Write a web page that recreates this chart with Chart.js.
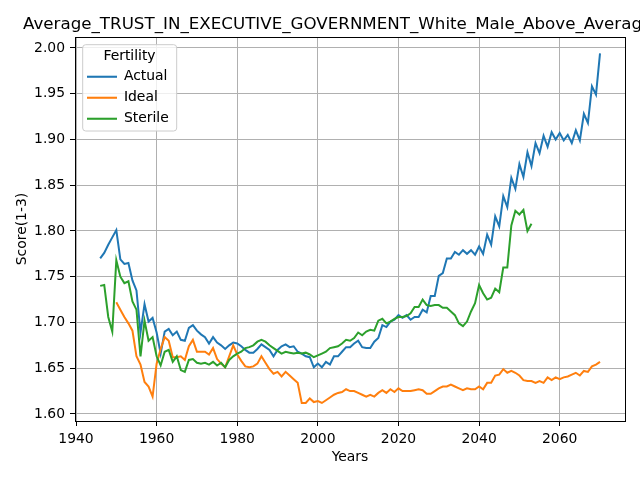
<!DOCTYPE html>
<html>
<head>
<meta charset="utf-8">
<script src="https://cdn.jsdelivr.net/npm/chart.js@4.4.0/dist/chart.umd.min.js"></script>
<style>
  html, body { margin: 0; padding: 0; background: #fff; }
  #wrap { width: 640px; height: 480px; }
</style>
</head>
<body>
<div id="wrap"><canvas id="myChart"></canvas></div>
<script>
const chartTitle = 'Average_TRUST_IN_EXECUTIVE_GOVERNMENT_White_Male_Above_Average';

const years = [
  1946, 1947, 1948, 1949, 1950, 1951, 1952, 1953, 1954, 1955, 1956, 1957, 1958, 1959,
  1960, 1961, 1962, 1963, 1964, 1965, 1966, 1967, 1968, 1969,
  1970, 1971, 1972, 1973, 1974, 1975, 1976, 1977, 1978, 1979,
  1980, 1981, 1982, 1983, 1984, 1985, 1986, 1987, 1988, 1989,
  1990, 1991, 1992, 1993, 1994, 1995, 1996, 1997, 1998, 1999,
  2000, 2001, 2002, 2003, 2004, 2005, 2006, 2007, 2008, 2009,
  2010, 2011, 2012, 2013, 2014, 2015, 2016, 2017, 2018, 2019,
  2020, 2021, 2022, 2023, 2024, 2025, 2026, 2027, 2028, 2029,
  2030, 2031, 2032, 2033, 2034, 2035, 2036, 2037, 2038, 2039,
  2040, 2041, 2042, 2043, 2044, 2045, 2046, 2047, 2048, 2049,
  2050, 2051, 2052, 2053, 2054, 2055, 2056, 2057, 2058, 2059,
  2060, 2061, 2062, 2063, 2064, 2065, 2066, 2067, 2068, 2069,
  2070,
];

const actual = [
  1.770, 1.776, 1.785, 1.793, 1.801, 1.769, 1.764, 1.765, 1.746, 1.735, 1.689, 1.720, 1.701, 1.705,
  1.689, 1.666, 1.690, 1.693, 1.686, 1.690, 1.681, 1.680, 1.694, 1.697,
  1.691, 1.687, 1.684, 1.677, 1.684, 1.678, 1.675, 1.671, 1.675, 1.678,
  1.677, 1.674, 1.670, 1.667, 1.667, 1.671, 1.676, 1.673, 1.670, 1.663,
  1.670, 1.674, 1.676, 1.673, 1.674, 1.668, 1.666, 1.663, 1.662, 1.651,
  1.655, 1.651, 1.657, 1.654, 1.663, 1.663, 1.668, 1.673, 1.673, 1.677,
  1.680, 1.673, 1.672, 1.672, 1.679, 1.683, 1.697, 1.695, 1.701, 1.703,
  1.708, 1.705, 1.708, 1.703, 1.706, 1.706, 1.714, 1.711, 1.729, 1.729,
  1.751, 1.754, 1.770, 1.770, 1.777, 1.774, 1.779, 1.775, 1.779, 1.774,
  1.783, 1.775, 1.796, 1.785, 1.816, 1.805, 1.838, 1.826, 1.858, 1.846,
  1.873, 1.859, 1.886, 1.871, 1.896, 1.885, 1.904, 1.892, 1.908, 1.900,
  1.907, 1.899, 1.905, 1.896, 1.910, 1.899, 1.928, 1.918, 1.958, 1.949,
  1.994,
];

const ideal = [
  null, null, null, null, 1.722, 1.714, 1.706, 1.699, 1.691, 1.663, 1.654, 1.635, 1.630, 1.619,
  1.655, 1.671, 1.684, 1.680, 1.662, 1.662, 1.663, 1.659, 1.674, 1.681,
  1.668, 1.668, 1.668, 1.665, 1.672, 1.660, 1.655, 1.651, 1.663, 1.675,
  1.665, 1.658, 1.652, 1.651, 1.652, 1.655, 1.663, 1.656, 1.649, 1.644,
  1.646, 1.641, 1.646, 1.642, 1.638, 1.634, 1.612, 1.612, 1.617, 1.613,
  1.614, 1.612, 1.615, 1.618, 1.621, 1.623, 1.624, 1.627, 1.625, 1.625,
  1.623, 1.621, 1.619, 1.621, 1.619, 1.623, 1.626, 1.623, 1.627, 1.624,
  1.628, 1.625, 1.625, 1.625, 1.626, 1.627, 1.626, 1.622, 1.622, 1.625,
  1.628, 1.630, 1.630, 1.632, 1.630, 1.628, 1.626, 1.628, 1.627, 1.627,
  1.630, 1.627, 1.634, 1.634, 1.642, 1.643, 1.649, 1.645, 1.647, 1.645,
  1.642, 1.637, 1.636, 1.636, 1.634, 1.636, 1.634, 1.640, 1.637, 1.640,
  1.638, 1.640, 1.641, 1.643, 1.645, 1.642, 1.647, 1.646, 1.652, 1.654,
  1.657,
];

const sterile = [
  1.740, 1.741, 1.706, 1.690, 1.768, 1.750, 1.743, 1.745, 1.723, 1.714, 1.663, 1.702, 1.680, 1.684,
  1.663, 1.653, 1.668, 1.670, 1.657, 1.663, 1.648, 1.646, 1.659, 1.660,
  1.656, 1.655, 1.656, 1.654, 1.657, 1.653, 1.656, 1.651, 1.659, 1.663,
  1.666, 1.668, 1.672, 1.673, 1.675, 1.679, 1.681, 1.679, 1.675, 1.672,
  1.669, 1.666, 1.668, 1.667, 1.666, 1.667, 1.666, 1.667, 1.665, 1.662,
  1.664, 1.666, 1.668, 1.672, 1.673, 1.674, 1.677, 1.681, 1.680, 1.683,
  1.689, 1.686, 1.690, 1.692, 1.691, 1.702, 1.704, 1.699, 1.701, 1.704,
  1.706, 1.706, 1.707, 1.710, 1.717, 1.717, 1.725, 1.719, 1.718, 1.719,
  1.719, 1.716, 1.716, 1.712, 1.708, 1.699, 1.696, 1.701, 1.712, 1.721,
  1.741, 1.732, 1.725, 1.727, 1.737, 1.733, 1.760, 1.760, 1.806, 1.822,
  1.818, 1.823, 1.800, 1.808, null, null, null, null, null, null,
  null, null, null, null, null, null, null, null, null, null,
  null,
];

const xTicks = [1940, 1960, 1980, 2000, 2020, 2040, 2060];
const yTicks = [1.60, 1.65, 1.70, 1.75, 1.80, 1.85, 1.90, 1.95, 2.00];

const toPoints = (values) => years.map((yr, i) => ({ x: yr, y: values[i] }));

Chart.defaults.font.family = '"DejaVu Sans", sans-serif';
Chart.defaults.font.size = 13.9;
Chart.defaults.color = '#000';

// spines, title and the legend frame (matplotlib style)
const mplFrame = {
  id: 'mplFrame',
  afterLayout(chart) {
    const lg = chart.legend;
    const ca = chart.chartArea;
    lg.left = ca.left + 5;
    lg.top = ca.top + 8;
    lg.width = 99;
    lg.height = 100;
    lg.right = lg.left + lg.width;
    lg.bottom = lg.top + lg.height;
  },
  afterDraw(chart) {
    const { ctx, chartArea: ca } = chart;
    const lg = chart.legend;
    ctx.save();
    ctx.strokeStyle = '#000';
    ctx.lineWidth = 1;
    ctx.strokeRect(Math.round(ca.left) + 0.5, Math.round(ca.top) + 0.5,
      Math.round(ca.right - ca.left), Math.round(ca.bottom - ca.top));

    // title starts just left of the axes and runs off the right edge
    ctx.font = '16.7px "DejaVu Sans", sans-serif';
    ctx.fillStyle = '#000';
    ctx.textAlign = 'left';
    ctx.textBaseline = 'alphabetic';
    ctx.fillText(chartTitle, 23, ca.top - 8.5);

    ctx.beginPath();
    ctx.roundRect(lg.left + 2.7, lg.top - 0.3, 94, 86.3, 3);
    ctx.fillStyle = 'rgba(255,255,255,0.8)';
    ctx.fill();
    ctx.strokeStyle = '#cccccc';
    ctx.stroke();
    ctx.restore();
    lg.draw();
  },
};

const ctx = document.getElementById('myChart').getContext('2d');
new Chart(ctx, {
  type: 'line',
  data: {
    datasets: [
      {
        label: 'Actual',
        data: toPoints(actual),
        borderColor: '#1f77b4',
        backgroundColor: '#1f77b4',
        order: 3,
      },
      {
        label: 'Ideal',
        data: toPoints(ideal),
        borderColor: '#ff7f0e',
        backgroundColor: '#ff7f0e',
        order: 2,
      },
      {
        label: 'Sterile',
        data: toPoints(sterile),
        borderColor: '#2ca02c',
        backgroundColor: '#2ca02c',
        order: 1,
      },
    ],
  },
  options: {
    responsive: true,
    maintainAspectRatio: false,
    animation: false,
    layout: { padding: { top: 37, right: 15, left: 0, bottom: 0 } },
    elements: {
      line: { borderWidth: 2, tension: 0, fill: false },
      point: { radius: 0, hoverRadius: 0 },
    },
    plugins: {
      tooltip: { enabled: false },
      legend: {
        position: 'chartArea',
        align: 'start',
        title: {
          display: true,
          text: 'Fertility',
          font: { size: 13.9, lineHeight: 1.0 },
          padding: { top: 4, bottom: 0 },
        },
        labels: {
          boxWidth: 30,
          boxHeight: 0,
          padding: 7,
          font: { size: 13.9 },
          sort: (a, b) => a.datasetIndex - b.datasetIndex,
        },
      },
    },
    scales: {
      x: {
        type: 'linear',
        min: 1939.75,
        max: 2076.2,
        afterBuildTicks: (axis) => { axis.ticks = xTicks.map((v) => ({ value: v })); },
        afterFit: (axis) => { axis.height = 59; },
        ticks: { padding: 5, maxRotation: 0, autoSkip: false, callback: (v) => String(v) },
        grid: { color: '#b0b0b0', lineWidth: 1, tickLength: 5, tickColor: '#000', tickWidth: 1 },
        border: { display: false },
        title: { display: true, text: 'Years', padding: { top: 0, bottom: 14.6 } },
      },
      y: {
        type: 'linear',
        min: 1.5923,
        max: 2.012,
        afterBuildTicks: (axis) => { axis.ticks = yTicks.map((v) => ({ value: v })); },
        afterFit: (axis) => { axis.width = 75; },
        ticks: { padding: 5, autoSkip: false, callback: (v) => v.toFixed(2) },
        grid: { color: '#b0b0b0', lineWidth: 1, tickLength: 5, tickColor: '#000', tickWidth: 1 },
        border: { display: false },
        title: { display: true, text: 'Score(1-3)', padding: { top: 13.6, bottom: 0 } },
      },
    },
  },
  plugins: [mplFrame],
});
</script>
</body>
</html>
